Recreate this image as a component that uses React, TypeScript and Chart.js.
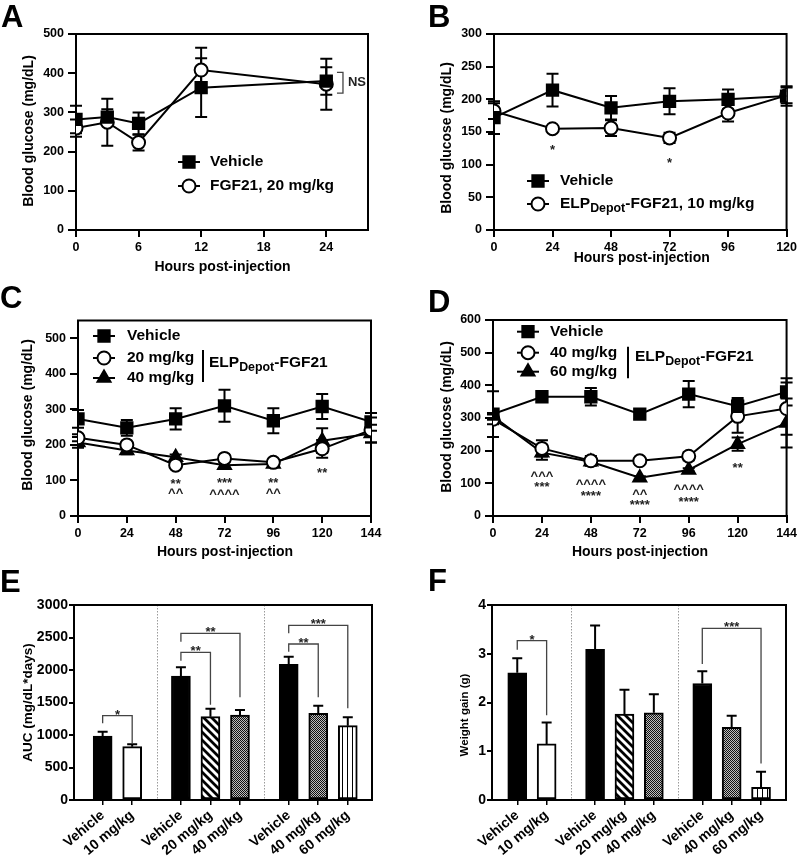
import React, { useEffect, useRef } from "react";
import { Chart, registerables } from "chart.js";
Chart.register(...registerables);

const FONT = "'Liberation Sans', Arial, Helvetica, sans-serif";

// ---------------- Panel A ----------------
const hoursA = [0, 3, 6, 12, 24];
const vehicleA = [282, 288, 272, 363, 380];
const vehicleAErr = [35, 20, 28, 75, 35];
const fgf21A = [260, 275, 223, 408, 372];
const fgf21AErr = [22, 60, 20, 57, 65];
const xTicksA = [0, 6, 12, 18, 24];
const yTicksA = [0, 100, 200, 300, 400, 500];
const nsA = { x: 25.6, y1: 349, y2: 402, text: "NS" };

// ---------------- Panel B ----------------
const hoursB = [0, 24, 48, 72, 96, 120];
const vehicleB = [172, 214, 187, 197, 200, 205];
const vehicleBErr = [25, 25, 18, 20, 15, 15];
const depotB = [182, 155, 156, 141, 179, 206];
const depotBErr = [12, 3, 12, 8, 13, 12];
const yTicksB = [0, 50, 100, 150, 200, 250, 300];
const marksB = [
  { x: 24, y: 126, text: "*" },
  { x: 72, y: 107, text: "*" },
];

// ---------------- Panel C ----------------
const hoursCD = [0, 24, 48, 72, 96, 120, 144];
const vehicleC = [273, 248, 273, 310, 268, 308, 265];
const vehicleCErr = [25, 22, 30, 45, 35, 35, 25];
const dose20C = [220, 200, 143, 162, 151, 189, 242];
const dose20CErr = [10, 8, 8, 8, 8, 25, 35];
const dose40C = [207, 184, 165, 143, 146, 212, 232];
const dose40CErr = [15, 10, 8, 8, 8, 35, 25];
const yTicksC = [0, 100, 200, 300, 400, 500];
const marksC = [
  { x: 48, y: 98, text: "**" },
  { x: 48, y: 72, text: "^^" },
  { x: 72, y: 100, text: "***" },
  { x: 72, y: 69, text: "^^^^" },
  { x: 96, y: 100, text: "**" },
  { x: 96, y: 72, text: "^^" },
  { x: 120, y: 128, text: "**" },
];

// ---------------- Panel D ----------------
const vehicleD = [312, 365, 365, 312, 373, 336, 380];
const vehicleDErr = [70, 15, 27, 15, 40, 25, 42];
const dose40D = [296, 207, 169, 169, 183, 305, 329];
const dose40DErr = [15, 25, 15, 5, 12, 50, 80];
const dose60D = [305, 194, 166, 117, 141, 220, 285];
const dose60DErr = [10, 22, 10, 5, 5, 20, 75];
const yTicksD = [0, 100, 200, 300, 400, 500, 600];
const marksD = [
  { x: 24, y: 130, text: "^^^" },
  { x: 24, y: 98, text: "***" },
  { x: 48, y: 105, text: "^^^^" },
  { x: 48, y: 69, text: "****" },
  { x: 72, y: 74, text: "^^" },
  { x: 72, y: 41, text: "****" },
  { x: 96, y: 90, text: "^^^^" },
  { x: 96, y: 52, text: "****" },
  { x: 120, y: 154, text: "**" },
];
const xTicksCD = [0, 24, 48, 72, 96, 120, 144];
const xTicksB = [0, 24, 48, 72, 96, 120];

// ---------------- Panels E & F ----------------
const barLabels = ["Vehicle", "10 mg/kg", "Vehicle", "20 mg/kg", "40 mg/kg", "Vehicle", "40 mg/kg", "60 mg/kg"];
const groupSizes = [2, 3, 3];
const barFills = ["solid", "open", "solid", "diagonal", "checker", "solid", "checker", "vertical"];
const aucE = [985, 820, 1908, 1282, 1308, 2087, 1333, 1144];
const aucEErr = [66, 36, 133, 123, 77, 118, 118, 128];
const yTicksE = [0, 500, 1000, 1500, 2000, 2500, 3000];
const bracketsE = [
  { from: 0, to: 1, y: 1297, yFrom: 1180, yTo: 870, text: "*" },
  { from: 2, to: 3, y: 2272, yFrom: 2144, yTo: 1465, text: "**" },
  { from: 2, to: 4, y: 2564, yFrom: 2436, yTo: 1580, text: "**" },
  { from: 5, to: 6, y: 2400, yFrom: 2282, yTo: 1580, text: "**" },
  { from: 5, to: 7, y: 2687, yFrom: 2564, yTo: 1410, text: "***" },
];
const weightF = [2.61, 1.15, 3.09, 1.76, 1.79, 2.39, 1.49, 0.26];
const weightFErr = [0.3, 0.44, 0.49, 0.5, 0.38, 0.25, 0.24, 0.32];
const yTicksF = [0, 1, 2, 3, 4];
const bracketsF = [
  { from: 0, to: 1, y: 3.27, yFrom: 3.08, yTo: 1.74, text: "*" },
  { from: 5, to: 7, y: 3.52, yFrom: 2.79, yTo: 0.75, text: "***" },
];

// ---------------- helpers ----------------
type Seg = { t: string; sub?: boolean };
const RADIUS: Record<string, number> = { rect: 8, circle: 6.5, triangle: 7.5 };
const GROUP_GAP = 0.65;

function barPositions(): number[] {
  const out: number[] = [];
  let pos = 0;
  groupSizes.forEach((n) => {
    for (let i = 0; i < n; i++) {
      out.push(pos);
      pos += 1;
    }
    pos += GROUP_GAP;
  });
  return out;
}
function separatorPositions(pos: number[]): number[] {
  const seps: number[] = [];
  let idx = 0;
  for (let g = 0; g < groupSizes.length - 1; g++) {
    idx += groupSizes[g];
    seps.push((pos[idx - 1] + pos[idx]) / 2);
  }
  return seps;
}

function drawSegs(ctx: CanvasRenderingContext2D, segs: Seg[], x: number, y: number, size: number) {
  let cx = x;
  ctx.textAlign = "left";
  ctx.textBaseline = "middle";
  ctx.fillStyle = "#000";
  for (const s of segs) {
    const fs = s.sub ? size * 0.8 : size;
    ctx.font = `bold ${fs}px ${FONT}`;
    ctx.fillText(s.t, cx, s.sub ? y + size * 0.32 : y);
    cx += ctx.measureText(s.t).width;
  }
}

function drawMarker(ctx: CanvasRenderingContext2D, style: string, x: number, y: number, fill: string) {
  const r = RADIUS[style];
  ctx.save();
  ctx.beginPath();
  if (style === "rect") {
    const s = Math.SQRT1_2 * r;
    ctx.rect(x - s, y - s, 2 * s, 2 * s);
  } else if (style === "circle") {
    ctx.arc(x, y, r, 0, Math.PI * 2);
  } else {
    let rad = 0;
    ctx.moveTo(x + Math.sin(rad) * r, y - Math.cos(rad) * r);
    rad += (2 * Math.PI) / 3;
    ctx.lineTo(x + Math.sin(rad) * r, y - Math.cos(rad) * r);
    rad += (2 * Math.PI) / 3;
    ctx.lineTo(x + Math.sin(rad) * r, y - Math.cos(rad) * r);
    ctx.closePath();
  }
  ctx.fillStyle = fill;
  ctx.fill();
  ctx.lineWidth = 2;
  ctx.strokeStyle = "#000";
  ctx.stroke();
  ctx.restore();
}

function makePattern(kind: string): CanvasPattern | string {
  if (kind === "solid") return "#000";
  if (kind === "open") return "#fff";
  const c = document.createElement("canvas");
  const g = c.getContext("2d")!;
  if (kind === "diagonal") {
    c.width = 8;
    c.height = 8;
    g.fillStyle = "#fff";
    g.fillRect(0, 0, 8, 8);
    g.strokeStyle = "#000";
    g.lineWidth = 2.8;
    g.beginPath();
    g.moveTo(-2, -2);
    g.lineTo(10, 10);
    g.moveTo(-2, 6);
    g.lineTo(2, 10);
    g.moveTo(6, -2);
    g.lineTo(10, 2);
    g.stroke();
  } else if (kind === "checker") {
    c.width = 2;
    c.height = 2;
    g.fillStyle = "#bdbdbd";
    g.fillRect(0, 0, 2, 2);
    g.fillStyle = "#111";
    g.fillRect(0, 0, 1, 1);
    g.fillRect(1, 1, 1, 1);
  } else {
    c.width = 5;
    c.height = 1;
    g.fillStyle = "#fff";
    g.fillRect(0, 0, 5, 1);
    g.fillStyle = "#000";
    g.fillRect(2, 0, 1, 1);
  }
  return g.createPattern(c, "repeat")!;
}

type Area = { l: number; r: number; t: number; b: number };
type Decor = {
  letter: { text: string; x: number; y: number };
  xTitle?: { text: string; x: number; y: number; size: number };
  yTitle: { text: string; x: number; y: number; size: number };
  errors: number[][];
  values: number[][];
  errorMode: "both" | "up";
  marks?: { x: number; y: number; text: string }[];
  legend?: {
    markerX: number;
    textX: number;
    rows: { y: number; style: string; fill: string; segs: Seg[] }[];
    bar?: { x: number; y1: number; y2: number };
    group?: { x: number; y: number; segs: Seg[] };
  };
  ns?: { x: number; y1: number; y2: number; text: string };
  brackets?: { from: number; to: number; y: number; yFrom: number; yTo: number; text: string }[];
  barX?: number[];
  separators?: number[];
};

function decorPlugin(spec: Decor) {
  return {
    id: "decor" + spec.letter.text,
    beforeDatasetsDraw(chart: any) {
      const ctx: CanvasRenderingContext2D = chart.ctx;
      const ca = chart.chartArea;
      const xs = chart.scales.x;
      const ys = chart.scales.y;
      ctx.save();
      if (spec.separators) {
        ctx.strokeStyle = "#9a9a9a";
        ctx.lineWidth = 1;
        ctx.setLineDash([1.5, 1.5]);
        for (const v of spec.separators) {
          const px = Math.round(xs.getPixelForValue(v)) + 0.5;
          ctx.beginPath();
          ctx.moveTo(px, ca.top);
          ctx.lineTo(px, ca.bottom);
          ctx.stroke();
        }
        ctx.setLineDash([]);
      }
      ctx.strokeStyle = "#000";
      ctx.lineWidth = 2;
      ctx.strokeRect(ca.left, ca.top, ca.right - ca.left, ca.bottom - ca.top);
      if (spec.errorMode === "both") {
        ctx.lineWidth = 2;
        spec.errors.forEach((errs, d) => {
          const meta = chart.getDatasetMeta(d);
          errs.forEach((e, i) => {
            const pt = meta.data[i];
            const v = spec.values[d][i];
            const yT = ys.getPixelForValue(v + e);
            const yB = ys.getPixelForValue(v - e);
            ctx.beginPath();
            ctx.moveTo(pt.x, yT);
            ctx.lineTo(pt.x, yB);
            ctx.moveTo(pt.x - 6, yT);
            ctx.lineTo(pt.x + 6, yT);
            ctx.moveTo(pt.x - 6, yB);
            ctx.lineTo(pt.x + 6, yB);
            ctx.stroke();
          });
        });
      }
      ctx.restore();
    },
    afterDatasetsDraw(chart: any) {
      const ctx: CanvasRenderingContext2D = chart.ctx;
      const xs = chart.scales.x;
      const ys = chart.scales.y;
      ctx.save();
      if (spec.errorMode === "up") {
        ctx.strokeStyle = "#000";
        ctx.lineWidth = 2;
        spec.errors.forEach((errs, d) => {
          const meta = chart.getDatasetMeta(d);
          errs.forEach((e, i) => {
            const el = meta.data[i];
            const v = spec.values[d][i];
            const yT = ys.getPixelForValue(v + e);
            const y0 = ys.getPixelForValue(v);
            ctx.beginPath();
            ctx.moveTo(el.x, y0);
            ctx.lineTo(el.x, yT);
            ctx.moveTo(el.x - 5, yT);
            ctx.lineTo(el.x + 5, yT);
            ctx.stroke();
          });
        });
      }
      if (spec.marks) {
        ctx.fillStyle = "#222";
        ctx.font = `bold 13px ${FONT}`;
        ctx.textAlign = "center";
        ctx.textBaseline = "middle";
        for (const m of spec.marks) {
          ctx.fillText(m.text, xs.getPixelForValue(m.x), ys.getPixelForValue(m.y) + 3);
        }
      }
      if (spec.ns) {
        const n = spec.ns;
        const px = xs.getPixelForValue(n.x);
        const p1 = ys.getPixelForValue(n.y1);
        const p2 = ys.getPixelForValue(n.y2);
        ctx.strokeStyle = "#444";
        ctx.lineWidth = 1.3;
        ctx.beginPath();
        ctx.moveTo(px - 6, p1);
        ctx.lineTo(px, p1);
        ctx.lineTo(px, p2);
        ctx.lineTo(px - 6, p2);
        ctx.stroke();
        ctx.fillStyle = "#222";
        ctx.font = `bold 13px ${FONT}`;
        ctx.textAlign = "left";
        ctx.textBaseline = "middle";
        ctx.fillText(n.text, px + 5, (p1 + p2) / 2);
      }
      if (spec.brackets && spec.barX) {
        ctx.strokeStyle = "#444";
        ctx.lineWidth = 1.3;
        ctx.fillStyle = "#222";
        ctx.font = `bold 13px ${FONT}`;
        ctx.textAlign = "center";
        ctx.textBaseline = "alphabetic";
        for (const b of spec.brackets) {
          const x1 = xs.getPixelForValue(spec.barX[b.from]);
          const x2 = xs.getPixelForValue(spec.barX[b.to]);
          const py = ys.getPixelForValue(b.y);
          ctx.beginPath();
          ctx.moveTo(x1, ys.getPixelForValue(b.yFrom));
          ctx.lineTo(x1, py);
          ctx.lineTo(x2, py);
          ctx.lineTo(x2, ys.getPixelForValue(b.yTo));
          ctx.stroke();
          ctx.fillText(b.text, (x1 + x2) / 2, py + 3);
        }
      }
      if (spec.legend) {
        const L = spec.legend;
        for (const row of L.rows) {
          ctx.strokeStyle = "#000";
          ctx.lineWidth = 2;
          ctx.beginPath();
          ctx.moveTo(L.markerX - 11, row.y);
          ctx.lineTo(L.markerX + 11, row.y);
          ctx.stroke();
          drawMarker(ctx, row.style, L.markerX, row.y, row.fill);
          drawSegs(ctx, row.segs, L.textX, row.y, 15.5);
        }
        if (L.bar) {
          ctx.strokeStyle = "#000";
          ctx.lineWidth = 2;
          ctx.beginPath();
          ctx.moveTo(L.bar.x, L.bar.y1);
          ctx.lineTo(L.bar.x, L.bar.y2);
          ctx.stroke();
        }
        if (L.group) drawSegs(ctx, L.group.segs, L.group.x, L.group.y, 15.5);
      }
      ctx.fillStyle = "#000";
      if (spec.xTitle) {
        ctx.font = `bold ${spec.xTitle.size}px ${FONT}`;
        ctx.textAlign = "center";
        ctx.textBaseline = "middle";
        ctx.fillText(spec.xTitle.text, spec.xTitle.x, spec.xTitle.y);
      }
      ctx.save();
      ctx.translate(spec.yTitle.x, spec.yTitle.y);
      ctx.rotate(-Math.PI / 2);
      ctx.font = `bold ${spec.yTitle.size}px ${FONT}`;
      ctx.textAlign = "center";
      ctx.textBaseline = "middle";
      ctx.fillText(spec.yTitle.text, 0, 0);
      ctx.restore();
      ctx.font = `bold 31px ${FONT}`;
      ctx.textAlign = "left";
      ctx.textBaseline = "alphabetic";
      ctx.fillText(spec.letter.text, spec.letter.x, spec.letter.y);
      ctx.restore();
    },
  };
}

const tickFont = (size: number) => ({ family: FONT, size, weight: "bold" as const });

function yScale(area: Area, min: number, max: number, ticks: number[], size: number, tickLen: number, pad: number) {
  return {
    type: "linear",
    min,
    max,
    afterBuildTicks: (ax: any) => {
      ax.ticks = ticks.map((v) => ({ value: v }));
    },
    afterFit: (s: any) => {
      s.width = area.l;
    },
    ticks: { color: "#000", font: tickFont(size), padding: pad, callback: (v: any) => String(v) },
    grid: { drawOnChartArea: false, color: "#000", lineWidth: 2, tickLength: tickLen },
    border: { color: "#000", width: 2 },
  };
}

type LineSeries = { values: number[]; err: number[]; style: string; fill: string };
type LinePanel = {
  area: Area;
  h: number;
  x: number[];
  xMax: number;
  xTicks: number[];
  yMax: number;
  yTicks: number[];
  series: LineSeries[];
  decor: Omit<Decor, "errors" | "values" | "errorMode">;
};

function lineConfig(p: LinePanel) {
  const datasets = p.series.map((s) => ({
    data: p.x.map((x, i) => ({ x, y: s.values[i] })),
    borderColor: "#000",
    borderWidth: 2,
    tension: 0,
    fill: false,
    pointStyle: s.style,
    pointRadius: RADIUS[s.style],
    pointHoverRadius: RADIUS[s.style],
    pointBackgroundColor: s.fill,
    pointBorderColor: "#000",
    pointBorderWidth: 2,
  }));
  const decor: Decor = {
    ...p.decor,
    errors: p.series.map((s) => s.err),
    values: p.series.map((s) => s.values),
    errorMode: "both",
  };
  return {
    type: "line",
    data: { datasets },
    options: {
      responsive: false,
      animation: false,
      events: [],
      layout: { padding: { top: p.area.t, right: 400 - p.area.r, left: 0, bottom: 0 } },
      plugins: { legend: { display: false }, tooltip: { enabled: false } },
      scales: {
        x: {
          type: "linear",
          min: 0,
          max: p.xMax,
          afterBuildTicks: (ax: any) => {
            ax.ticks = p.xTicks.map((v) => ({ value: v }));
          },
          afterFit: (s: any) => {
            s.height = p.h - p.area.b;
          },
          ticks: { color: "#000", font: tickFont(12.5), padding: 3, maxRotation: 0, callback: (v: any) => String(v) },
          grid: { drawOnChartArea: false, color: "#000", lineWidth: 2, tickLength: 7 },
          border: { color: "#000", width: 2 },
        },
        y: yScale(p.area, 0, p.yMax, p.yTicks, 12.5, 8, 4),
      },
    },
    plugins: [decorPlugin(decor)],
  };
}

type BarPanel = {
  area: Area;
  h: number;
  xMin: number;
  xMax: number;
  values: number[];
  err: number[];
  yMax: number;
  yTicks: number[];
  decor: Omit<Decor, "errors" | "values" | "errorMode" | "barX" | "separators">;
};

function barConfig(p: BarPanel) {
  const pos = barPositions();
  const decor: Decor = {
    ...p.decor,
    errors: [p.err],
    values: [p.values],
    errorMode: "up",
    barX: pos,
    separators: separatorPositions(pos),
  };
  return {
    type: "bar",
    data: {
      datasets: [
        {
          data: pos.map((x, i) => ({ x, y: p.values[i] })),
          backgroundColor: barFills.map(makePattern),
          borderColor: "#000",
          borderWidth: 2,
          borderSkipped: false,
          barThickness: 19,
        },
      ],
    },
    options: {
      responsive: false,
      animation: false,
      events: [],
      layout: { padding: { top: p.area.t, right: 400 - p.area.r, left: 0, bottom: 0 } },
      plugins: { legend: { display: false }, tooltip: { enabled: false } },
      scales: {
        x: {
          type: "linear",
          offset: false,
          min: p.xMin,
          max: p.xMax,
          afterBuildTicks: (ax: any) => {
            ax.ticks = pos.map((v) => ({ value: v }));
          },
          afterFit: (s: any) => {
            s.height = p.h - p.area.b;
          },
          ticks: {
            color: "#000",
            font: tickFont(14),
            padding: 2,
            autoSkip: false,
            minRotation: 40,
            maxRotation: 40,
            callback: (_v: any, i: number) => barLabels[i],
          },
          grid: { drawOnChartArea: false, offset: false, color: "#000", lineWidth: 1.5, tickLength: 5 },
          border: { color: "#000", width: 2 },
        },
        y: yScale(p.area, 0, p.yMax, p.yTicks, 14, 5, 1),
      },
    },
    plugins: [decorPlugin(decor)],
  };
}

const ELP: Seg[] = [{ t: "ELP" }, { t: "Depot", sub: true }, { t: "-FGF21" }];

function makeA() {
  return lineConfig({
    area: { l: 76, r: 368, t: 34, b: 230 },
    h: 282,
    x: hoursA,
    xMax: 28,
    xTicks: xTicksA,
    yMax: 500,
    yTicks: yTicksA,
    series: [
      { values: vehicleA, err: vehicleAErr, style: "rect", fill: "#000" },
      { values: fgf21A, err: fgf21AErr, style: "circle", fill: "#fff" },
    ],
    decor: {
      letter: { text: "A", x: 1, y: 27 },
      xTitle: { text: "Hours post-injection", x: 222.5, y: 267, size: 14 },
      yTitle: { text: "Blood glucose (mg/dL)", x: 29, y: 131, size: 14 },
      ns: nsA,
      legend: {
        markerX: 189,
        textX: 210,
        rows: [
          { y: 162, style: "rect", fill: "#000", segs: [{ t: "Vehicle" }] },
          { y: 186, style: "circle", fill: "#fff", segs: [{ t: "FGF21, 20 mg/kg" }] },
        ],
      },
    },
  });
}

function makeB() {
  return lineConfig({
    area: { l: 94, r: 387, t: 34, b: 230 },
    h: 282,
    x: hoursB,
    xMax: 120,
    xTicks: xTicksB,
    yMax: 300,
    yTicks: yTicksB,
    series: [
      { values: vehicleB, err: vehicleBErr, style: "rect", fill: "#000" },
      { values: depotB, err: depotBErr, style: "circle", fill: "#fff" },
    ],
    decor: {
      letter: { text: "B", x: 28, y: 27 },
      xTitle: { text: "Hours post-injection", x: 241.7, y: 258, size: 14 },
      yTitle: { text: "Blood glucose (mg/dL)", x: 47, y: 138, size: 14 },
      marks: marksB,
      legend: {
        markerX: 138,
        textX: 160,
        rows: [
          { y: 181, style: "rect", fill: "#000", segs: [{ t: "Vehicle" }] },
          { y: 204, style: "circle", fill: "#fff", segs: [...ELP, { t: ", 10 mg/kg" }] },
        ],
      },
    },
  });
}

function makeC() {
  return lineConfig({
    area: { l: 78, r: 371, t: 38.5, b: 234 },
    h: 280,
    x: hoursCD,
    xMax: 144,
    xTicks: xTicksCD,
    yMax: 550,
    yTicks: yTicksC,
    series: [
      { values: vehicleC, err: vehicleCErr, style: "rect", fill: "#000" },
      { values: dose20C, err: dose20CErr, style: "circle", fill: "#fff" },
      { values: dose40C, err: dose40CErr, style: "triangle", fill: "#000" },
    ],
    decor: {
      letter: { text: "C", x: 0, y: 26 },
      xTitle: { text: "Hours post-injection", x: 225, y: 269.7, size: 14 },
      yTitle: { text: "Blood glucose (mg/dL)", x: 28.3, y: 133, size: 14 },
      marks: marksC,
      legend: {
        markerX: 104,
        textX: 127,
        rows: [
          { y: 54, style: "rect", fill: "#000", segs: [{ t: "Vehicle" }] },
          { y: 76, style: "circle", fill: "#fff", segs: [{ t: "20 mg/kg" }] },
          { y: 96, style: "triangle", fill: "#000", segs: [{ t: "40 mg/kg" }] },
        ],
        bar: { x: 203, y1: 68, y2: 100 },
        group: { x: 209, y: 81, segs: ELP },
      },
    },
  });
}

function makeD() {
  return lineConfig({
    area: { l: 93, r: 387, t: 38, b: 234 },
    h: 280,
    x: hoursCD,
    xMax: 144,
    xTicks: xTicksCD,
    yMax: 600,
    yTicks: yTicksD,
    series: [
      { values: vehicleD, err: vehicleDErr, style: "rect", fill: "#000" },
      { values: dose40D, err: dose40DErr, style: "circle", fill: "#fff" },
      { values: dose60D, err: dose60DErr, style: "triangle", fill: "#000" },
    ],
    decor: {
      letter: { text: "D", x: 28, y: 29.7 },
      xTitle: { text: "Hours post-injection", x: 240, y: 269.7, size: 14 },
      yTitle: { text: "Blood glucose (mg/dL)", x: 46.7, y: 135, size: 14 },
      marks: marksD,
      legend: {
        markerX: 128,
        textX: 150,
        rows: [
          { y: 49.7, style: "rect", fill: "#000", segs: [{ t: "Vehicle" }] },
          { y: 70.7, style: "circle", fill: "#fff", segs: [{ t: "40 mg/kg" }] },
          { y: 89.7, style: "triangle", fill: "#000", segs: [{ t: "60 mg/kg" }] },
        ],
        bar: { x: 228, y1: 64.7, y2: 96.3 },
        group: { x: 235, y: 74.7, segs: ELP },
      },
    },
  });
}

function makeE() {
  return barConfig({
    area: { l: 74, r: 372, t: 43, b: 238 },
    h: 304,
    xMin: -0.97,
    xMax: 9.12,
    values: aucE,
    err: aucEErr,
    yMax: 3000,
    yTicks: yTicksE,
    decor: {
      letter: { text: "E", x: 0, y: 29.7 },
      yTitle: { text: "AUC (mg/dL*days)", x: 28.3, y: 140.5, size: 13.5 },
      brackets: bracketsE,
    },
  });
}

function makeF() {
  return barConfig({
    area: { l: 92, r: 386, t: 43, b: 238 },
    h: 304,
    xMin: -0.86,
    xMax: 9.15,
    values: weightF,
    err: weightFErr,
    yMax: 4,
    yTicks: yTicksF,
    decor: {
      letter: { text: "F", x: 28, y: 29 },
      yTitle: { text: "Weight gain (g)", x: 65, y: 153, size: 11.5 },
      brackets: bracketsF,
    },
  });
}

function Panel({ make, left, top, width, height }: { make: () => any; left: number; top: number; width: number; height: number }) {
  const ref = useRef<HTMLCanvasElement>(null);
  useEffect(() => {
    const chart = new Chart(ref.current!, make());
    return () => chart.destroy();
  }, []);
  return (
    <div style={{ position: "absolute", left, top, width, height }}>
      <canvas ref={ref} width={width} height={height} style={{ display: "block" }} />
    </div>
  );
}

export default function App() {
  return (
    <div style={{ position: "absolute", left: 0, top: 0, width: 800, height: 866, background: "#fff", overflow: "hidden" }}>
      <Panel make={makeA} left={0} top={0} width={400} height={282} />
      <Panel make={makeB} left={400} top={0} width={400} height={282} />
      <Panel make={makeC} left={0} top={282} width={400} height={280} />
      <Panel make={makeD} left={400} top={282} width={400} height={280} />
      <Panel make={makeE} left={0} top={562} width={400} height={304} />
      <Panel make={makeF} left={400} top={562} width={400} height={304} />
    </div>
  );
}
